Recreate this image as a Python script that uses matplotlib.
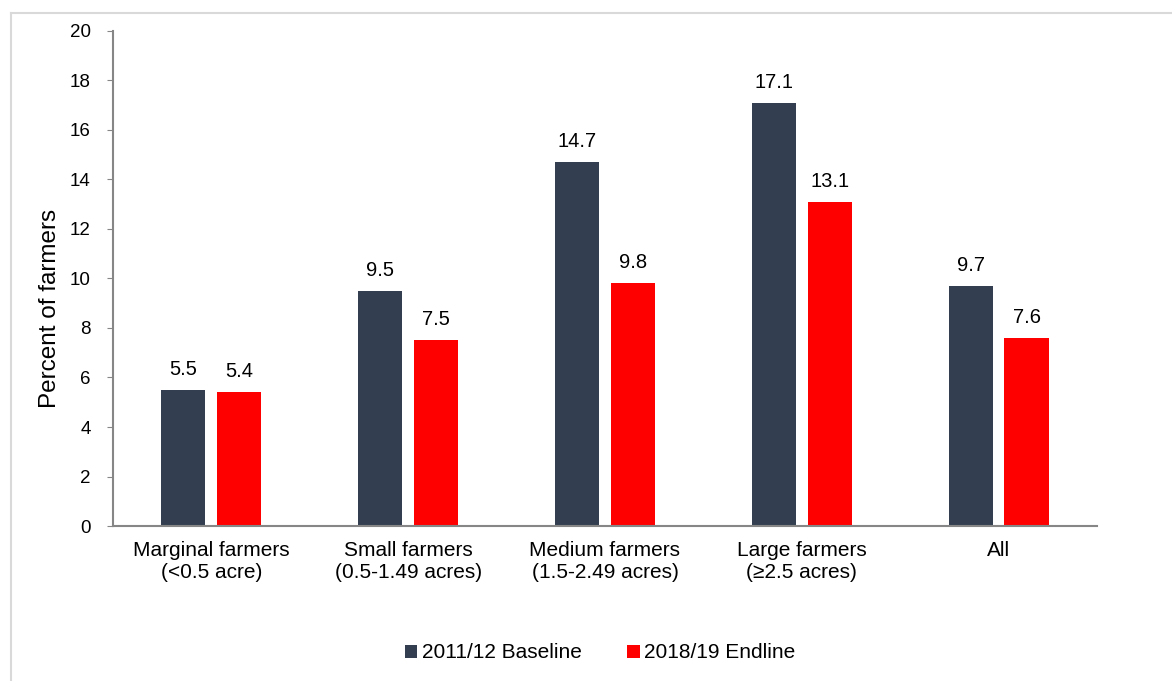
import matplotlib
matplotlib.use("Agg")
import matplotlib.pyplot as plt
import numpy as np
from matplotlib.lines import Line2D

plt.rcParams["font.family"] = ["Liberation Sans", "DejaVu Sans"]

categories = [
    "Marginal farmers\n(<0.5 acre)",
    "Small farmers\n(0.5-1.49 acres)",
    "Medium farmers\n(1.5-2.49 acres)",
    "Large farmers\n(\u22652.5 acres)",
    "All",
]
baseline = [5.5, 9.5, 14.7, 17.1, 9.7]
endline = [5.4, 7.5, 9.8, 13.1, 7.6]
series_names = ["2011/12 Baseline", "2018/19 Endline"]
colors = ["#333F50", "#FF0000"]

fig = plt.figure(figsize=(11.72, 6.81), dpi=100)
ax = fig.add_axes([0.0964, 0.2276, 0.8396, 0.7269])

x = np.arange(len(categories))
width = 0.224
offset = 0.142
for vals, off, col, name in zip([baseline, endline], [-offset, offset], colors, series_names):
    bars = ax.bar(x + off, vals, width, color=col, label=name)
    for b, v in zip(bars, vals):
        ax.annotate(f"{v:.1f}", (b.get_x() + b.get_width() / 2, v),
                    xytext=(0, 8), textcoords="offset points",
                    ha="center", va="bottom", fontsize=14.5)

ax.set_xlim(-0.5, len(categories) - 0.5)
ax.set_ylim(0, 20)
ax.set_yticks(range(0, 21, 2))
ax.set_xticks(x)
ax.set_xticklabels(categories, fontsize=15)
ax.tick_params(axis="x", length=0, pad=11)
ax.tick_params(axis="y", labelsize=13.5, length=4, color="#868686", pad=12)
ax.set_ylabel("Percent of farmers", fontsize=17.5)
# label sits a little below the axis middle, as in the original
ax.yaxis.set_label_coords(-0.053, 0.44)

for side in ["top", "right"]:
    ax.spines[side].set_visible(False)
for side in ["left", "bottom"]:
    ax.spines[side].set_color("#868686")
    ax.spines[side].set_linewidth(1.5)

ax.legend(loc="center", bbox_to_anchor=(600 / 1172, 1 - 653 / 681),
          bbox_transform=fig.transFigure, ncol=2, frameon=False,
          fontsize=15, handlelength=0.6, handleheight=0.6,
          columnspacing=2.2, handletextpad=0.2)

# light frame around the chart area (left and top edges visible)
fig.add_artist(Line2D([10.5 / 1172, 10.5 / 1172], [0, 1 - 13 / 681],
                      transform=fig.transFigure, color="#D9D9D9", lw=1.5))
fig.add_artist(Line2D([10.5 / 1172, 1], [1 - 13 / 681, 1 - 13 / 681],
                      transform=fig.transFigure, color="#D9D9D9", lw=1.5))

fig.savefig("out.png", dpi=100)
